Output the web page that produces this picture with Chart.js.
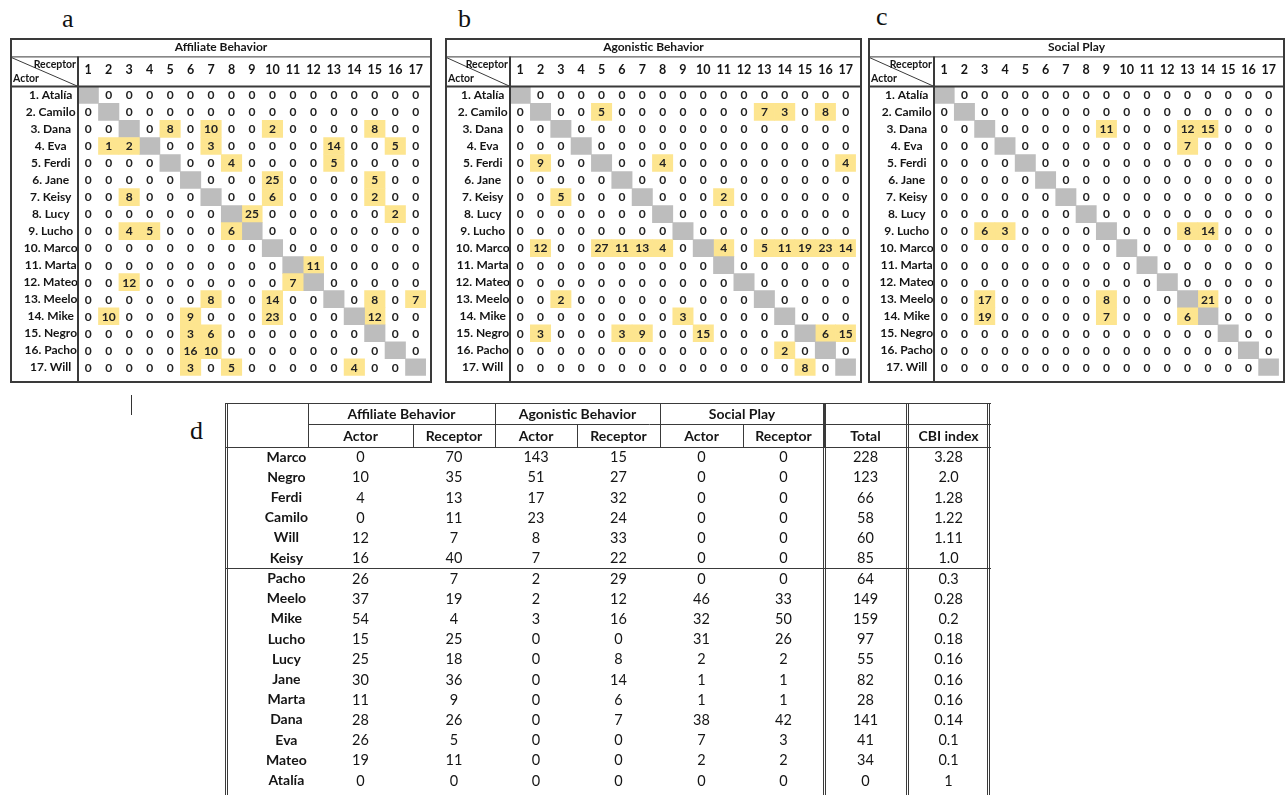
<!DOCTYPE html>
<html>
<head>
<meta charset="utf-8">
<title>Interacciones</title>
<script src="https://cdn.jsdelivr.net/npm/chart.js@4.4.1/dist/chart.umd.min.js"></script>
<style>
    html, body { margin: 0; padding: 0; background: #fff; width: 1286px; height: 795px; overflow: hidden; }
    canvas { position: absolute; }
    .tag { position: absolute; font-family: 'Liberation Serif', serif; font-size: 26px; line-height: 26px; color: #111; }
    .tick { position: absolute; left: 131px; top: 395px; width: 1px; height: 20px; background: #333; }
</style>
</head>
<body>
<div class="tag" style="left:62px;top:6px">a</div>
<div class="tag" style="left:458px;top:6px">b</div>
<div class="tag" style="left:876px;top:4px">c</div>
<div class="tag" style="left:190px;top:418px">d</div>
<div class="tick"></div>

<canvas id="matA" width="422" height="345" style="left:10px;top:38px"></canvas>
<canvas id="matB" width="417" height="345" style="left:445px;top:38px"></canvas>
<canvas id="matC" width="417" height="345" style="left:868px;top:38px"></canvas>
<canvas id="tableD" width="766" height="396" style="left:225px;top:403px"></canvas>

<script>
// actores (filas) y receptores (columnas)
let actors = ['1. Atalía', '2. Camilo', '3. Dana', '4. Eva', '5. Ferdi', '6. Jane', '7. Keisy', '8. Lucy', '9. Lucho',
    '10. Marco', '11. Marta', '12. Mateo', '13. Meelo', '14. Mike', '15. Negro', '16. Pacho', '17. Will'];
let receptors = [1, 2, 3, 4, 5, 6, 7, 8, 9, 10, 11, 12, 13, 14, 15, 16, 17];

// null = diagonal
let affiliate = [
    [null, 0, 0, 0, 0, 0, 0, 0, 0, 0, 0, 0, 0, 0, 0, 0, 0],
    [0, null, 0, 0, 0, 0, 0, 0, 0, 0, 0, 0, 0, 0, 0, 0, 0],
    [0, 0, null, 0, 8, 0, 10, 0, 0, 2, 0, 0, 0, 0, 8, 0, 0],
    [0, 1, 2, null, 0, 0, 3, 0, 0, 0, 0, 0, 14, 0, 0, 5, 0],
    [0, 0, 0, 0, null, 0, 0, 4, 0, 0, 0, 0, 5, 0, 0, 0, 0],
    [0, 0, 0, 0, 0, null, 0, 0, 0, 25, 0, 0, 0, 0, 5, 0, 0],
    [0, 0, 8, 0, 0, 0, null, 0, 0, 6, 0, 0, 0, 0, 2, 0, 0],
    [0, 0, 0, 0, 0, 0, 0, null, 25, 0, 0, 0, 0, 0, 0, 2, 0],
    [0, 0, 4, 5, 0, 0, 0, 6, null, 0, 0, 0, 0, 0, 0, 0, 0],
    [0, 0, 0, 0, 0, 0, 0, 0, 0, null, 0, 0, 0, 0, 0, 0, 0],
    [0, 0, 0, 0, 0, 0, 0, 0, 0, 0, null, 11, 0, 0, 0, 0, 0],
    [0, 0, 12, 0, 0, 0, 0, 0, 0, 0, 7, null, 0, 0, 0, 0, 0],
    [0, 0, 0, 0, 0, 0, 8, 0, 0, 14, 0, 0, null, 0, 8, 0, 7],
    [0, 10, 0, 0, 0, 9, 0, 0, 0, 23, 0, 0, 0, null, 12, 0, 0],
    [0, 0, 0, 0, 0, 3, 6, 0, 0, 0, 0, 0, 0, 0, null, 0, 0],
    [0, 0, 0, 0, 0, 16, 10, 0, 0, 0, 0, 0, 0, 0, 0, null, 0],
    [0, 0, 0, 0, 0, 3, 0, 5, 0, 0, 0, 0, 0, 4, 0, 0, null]
];
let agonistic = [
    [null, 0, 0, 0, 0, 0, 0, 0, 0, 0, 0, 0, 0, 0, 0, 0, 0],
    [0, null, 0, 0, 5, 0, 0, 0, 0, 0, 0, 0, 7, 3, 0, 8, 0],
    [0, 0, null, 0, 0, 0, 0, 0, 0, 0, 0, 0, 0, 0, 0, 0, 0],
    [0, 0, 0, null, 0, 0, 0, 0, 0, 0, 0, 0, 0, 0, 0, 0, 0],
    [0, 9, 0, 0, null, 0, 0, 4, 0, 0, 0, 0, 0, 0, 0, 0, 4],
    [0, 0, 0, 0, 0, null, 0, 0, 0, 0, 0, 0, 0, 0, 0, 0, 0],
    [0, 0, 5, 0, 0, 0, null, 0, 0, 0, 2, 0, 0, 0, 0, 0, 0],
    [0, 0, 0, 0, 0, 0, 0, null, 0, 0, 0, 0, 0, 0, 0, 0, 0],
    [0, 0, 0, 0, 0, 0, 0, 0, null, 0, 0, 0, 0, 0, 0, 0, 0],
    [0, 12, 0, 0, 27, 11, 13, 4, 0, null, 4, 0, 5, 11, 19, 23, 14],
    [0, 0, 0, 0, 0, 0, 0, 0, 0, 0, null, 0, 0, 0, 0, 0, 0],
    [0, 0, 0, 0, 0, 0, 0, 0, 0, 0, 0, null, 0, 0, 0, 0, 0],
    [0, 0, 2, 0, 0, 0, 0, 0, 0, 0, 0, 0, null, 0, 0, 0, 0],
    [0, 0, 0, 0, 0, 0, 0, 0, 3, 0, 0, 0, 0, null, 0, 0, 0],
    [0, 3, 0, 0, 0, 3, 9, 0, 0, 15, 0, 0, 0, 0, null, 6, 15],
    [0, 0, 0, 0, 0, 0, 0, 0, 0, 0, 0, 0, 0, 2, 0, null, 0],
    [0, 0, 0, 0, 0, 0, 0, 0, 0, 0, 0, 0, 0, 0, 8, 0, null]
];
let socialPlay = [
    [null, 0, 0, 0, 0, 0, 0, 0, 0, 0, 0, 0, 0, 0, 0, 0, 0],
    [0, null, 0, 0, 0, 0, 0, 0, 0, 0, 0, 0, 0, 0, 0, 0, 0],
    [0, 0, null, 0, 0, 0, 0, 0, 11, 0, 0, 0, 12, 15, 0, 0, 0],
    [0, 0, 0, null, 0, 0, 0, 0, 0, 0, 0, 0, 7, 0, 0, 0, 0],
    [0, 0, 0, 0, null, 0, 0, 0, 0, 0, 0, 0, 0, 0, 0, 0, 0],
    [0, 0, 0, 0, 0, null, 0, 0, 0, 0, 0, 0, 0, 0, 0, 0, 0],
    [0, 0, 0, 0, 0, 0, null, 0, 0, 0, 0, 0, 0, 0, 0, 0, 0],
    [0, 0, 0, 0, 0, 0, 0, null, 0, 0, 0, 0, 0, 0, 0, 0, 0],
    [0, 0, 6, 3, 0, 0, 0, 0, null, 0, 0, 0, 8, 14, 0, 0, 0],
    [0, 0, 0, 0, 0, 0, 0, 0, 0, null, 0, 0, 0, 0, 0, 0, 0],
    [0, 0, 0, 0, 0, 0, 0, 0, 0, 0, null, 0, 0, 0, 0, 0, 0],
    [0, 0, 0, 0, 0, 0, 0, 0, 0, 0, 0, null, 0, 0, 0, 0, 0],
    [0, 0, 17, 0, 0, 0, 0, 0, 8, 0, 0, 0, null, 21, 0, 0, 0],
    [0, 0, 19, 0, 0, 0, 0, 0, 7, 0, 0, 0, 6, null, 0, 0, 0],
    [0, 0, 0, 0, 0, 0, 0, 0, 0, 0, 0, 0, 0, 0, null, 0, 0],
    [0, 0, 0, 0, 0, 0, 0, 0, 0, 0, 0, 0, 0, 0, 0, null, 0],
    [0, 0, 0, 0, 0, 0, 0, 0, 0, 0, 0, 0, 0, 0, 0, 0, null]
];

// tabla resumen (d)
let names = ['Marco', 'Negro', 'Ferdi', 'Camilo', 'Will', 'Keisy', 'Pacho', 'Meelo', 'Mike', 'Lucho', 'Lucy', 'Jane', 'Marta', 'Dana', 'Eva', 'Mateo', 'Atalía'];
let affActor = [0, 10, 4, 0, 12, 16, 26, 37, 54, 15, 25, 30, 11, 28, 26, 19, 0];
let affReceptor = [70, 35, 13, 11, 7, 40, 7, 19, 4, 25, 18, 36, 9, 26, 5, 11, 0];
let agoActor = [143, 51, 17, 23, 8, 7, 2, 2, 3, 0, 0, 0, 0, 0, 0, 0, 0];
let agoReceptor = [15, 27, 32, 24, 33, 22, 29, 12, 16, 0, 8, 14, 6, 7, 0, 0, 0];
let spActor = [0, 0, 0, 0, 0, 0, 0, 46, 32, 31, 2, 1, 1, 38, 7, 2, 0];
let spReceptor = [0, 0, 0, 0, 0, 0, 0, 33, 50, 26, 2, 1, 1, 42, 3, 2, 0];
let total = [228, 123, 66, 58, 60, 85, 64, 149, 159, 97, 55, 82, 28, 141, 41, 34, 0];
let cbiIndex = ['3.28', '2.0', '1.28', '1.22', '1.11', '1.0', '0.3', '0.28', '0.2', '0.18', '0.16', '0.16', '0.16', '0.14', '0.1', '0.1', '1'];

let groups = ['Affiliate Behavior', 'Agonistic Behavior', 'Social Play'];
let subHeads = ['Actor', 'Receptor', 'Actor', 'Receptor', 'Actor', 'Receptor', 'Total', 'CBI index'];


let YELLOW = '#fde58f';
let GREY = '#bdbdbd';
let LINE = '#3a3a3a';
let INK = '#151515';

let line = function (ctx, x1, y1, x2, y2) {
    ctx.beginPath();
    ctx.moveTo(x1, y1);
    ctx.lineTo(x2, y2);
    ctx.stroke();
};

// numeros dentro de cada celda
let cellText = function (values) {
    return {
        id: 'cellText',
        afterDatasetsDraw: function (chart) {
            let ctx = chart.ctx, xs = chart.scales.x, ys = chart.scales.y;
            ctx.save();
            ctx.font = 'bold 12px Lato';
            ctx.fillStyle = '#222';
            ctx.textAlign = 'center';
            ctx.textBaseline = 'middle';
            values.forEach(function (row, r) {
                row.forEach(function (v, c) {
                    if (v === null) return;
                    ctx.fillText(String(v), xs.getPixelForValue(receptors[c]), ys.getPixelForValue(r) + 0.5);
                });
            });
            ctx.restore();
        }
    };
};

// marco, separadores y esquina Receptor/Actor
let matrixFrame = {
    id: 'matrixFrame',
    afterDraw: function (chart) {
        let ctx = chart.ctx, a = chart.chartArea, xs = chart.scales.x;
        let w = chart.width, h = chart.height;
        ctx.save();
        ctx.strokeStyle = LINE;
        ctx.lineWidth = 1;
        line(ctx, 0, xs.top + 0.5, w, xs.top + 0.5);
        line(ctx, 0, xs.top + 0.5, a.left, a.top);
        ctx.lineWidth = 2;
        ctx.strokeRect(1, 1, w - 2, h - 2);
        line(ctx, 0, a.top, w, a.top);
        line(ctx, a.left, xs.top, a.left, h);

        ctx.fillStyle = INK;
        ctx.font = 'bold 10.5px Lato';
        ctx.textAlign = 'right';
        ctx.textBaseline = 'alphabetic';
        ctx.fillText('Receptor', a.left - 2, xs.top + 12);
        ctx.textAlign = 'left';
        ctx.fillText('Actor', 3, a.top - 4);
        ctx.restore();
    }
};

let matrixChart = function (id, title, values, labelWidth) {
    let datasets = receptors.map(function (col, c) {
        return {
            data: values.map(function (row) {
                return (row[c] === null || row[c] > 0) ? [col - 0.5, col + 0.5] : null;
            }),
            backgroundColor: values.map(function (row) {
                return row[c] === null ? GREY : YELLOW;
            }),
            barPercentage: 1,
            categoryPercentage: 1,
            grouped: false
        };
    });

    return new Chart(document.getElementById(id), {
        type: 'bar',
        data: { labels: actors, datasets: datasets },
        options: {
            indexAxis: 'y',
            responsive: false,
            animation: false,
            layout: { padding: 0 },
            scales: {
                x: {
                    type: 'linear',
                    position: 'top',
                    min: 0.5,
                    max: 17.5,
                    grid: { display: false, drawTicks: false },
                    border: { display: false },
                    afterBuildTicks: function (axis) {
                        axis.ticks = receptors.map(function (v) { return { value: v }; });
                    },
                    afterFit: function (axis) { axis.height = 30; },
                    ticks: {
                        autoSkip: false,
                        maxRotation: 0,
                        padding: 9,
                        color: INK,
                        font: { family: 'Lato', weight: 'bold', size: 12.5 }
                    }
                },
                y: {
                    grid: { display: false, drawTicks: false },
                    border: { display: false },
                    afterFit: function (axis) { axis.width = labelWidth; },
                    ticks: {
                        autoSkip: false,
                        crossAlign: 'center',
                        padding: 0,
                        color: INK,
                        font: { family: 'Lato', weight: 'bold', size: 12 }
                    }
                }
            },
            plugins: {
                legend: { display: false },
                tooltip: { enabled: false },
                title: {
                    display: true,
                    text: title,
                    color: INK,
                    font: { family: 'Lato', weight: 'bold', size: 12, lineHeight: 1.2 },
                    padding: { top: 2, bottom: 2 }
                }
            }
        },
        plugins: [cellText(values), matrixFrame]
    });
};

// tabla d: columnas en unidades del eje x
let colEdges = [0, 105, 187, 269, 352, 435, 516, 599, 682];
let columns = [affActor, affReceptor, agoActor, agoReceptor, spActor, spReceptor, total, cbiIndex];

let tableDraw = {
    id: 'tableDraw',
    afterDraw: function (chart) {
        let ctx = chart.ctx, a = chart.chartArea, xs = chart.scales.x, ys = chart.scales.y;
        let w = chart.width, h = chart.height;
        let px = function (v) { return Math.round(xs.getPixelForValue(v)) + 0.5; };
        let mid = 21.5, head = a.top + 0.5;
        let dbl = function (x, y1, y2) {
            line(ctx, x - 1, y1, x - 1, y2);
            line(ctx, x + 1, y1, x + 1, y2);
        };
        ctx.save();
        ctx.strokeStyle = LINE;
        ctx.lineWidth = 1;

        // cabecera
        line(ctx, 0, 0.5, w, 0.5);
        line(ctx, a.left, mid, w, mid);
        line(ctx, 0, head, w, head);
        line(ctx, a.left + 0.5, 0, a.left + 0.5, head);
        [2, 4, 6].forEach(function (k) { line(ctx, px(colEdges[k]), 0, px(colEdges[k]), head); });
        [1, 3, 5].forEach(function (k) { line(ctx, px(colEdges[k]), mid, px(colEdges[k]), head); });

        // bordes dobles
        dbl(1.5, 0, h);
        dbl(px(colEdges[6]), 0, h);
        dbl(px(colEdges[7]), 0, h);
        dbl(w - 2.5, 0, h);

        // separador despues de Keisy
        let sep = Math.round((ys.getPixelForValue(5) + ys.getPixelForValue(6)) / 2) + 0.5;
        line(ctx, 0, sep, w, sep);

        ctx.fillStyle = INK;
        ctx.textAlign = 'center';
        ctx.textBaseline = 'middle';
        ctx.font = 'bold 14px Lato';
        groups.forEach(function (g, i) {
            let cx = (xs.getPixelForValue(colEdges[2 * i]) + xs.getPixelForValue(colEdges[2 * i + 2])) / 2;
            ctx.fillText(g, cx, 11);
        });
        subHeads.forEach(function (s, k) {
            let cx = (xs.getPixelForValue(colEdges[k]) + xs.getPixelForValue(colEdges[k + 1])) / 2;
            ctx.fillText(s, cx, 33);
        });

        ctx.font = '14.5px Lato';
        columns.forEach(function (col, k) {
            let cx = (xs.getPixelForValue(colEdges[k]) + xs.getPixelForValue(colEdges[k + 1])) / 2;
            col.forEach(function (v, r) {
                ctx.fillText(String(v), cx, ys.getPixelForValue(r) + 0.5);
            });
        });
        ctx.restore();
    }
};

let tableChart = function () {
    return new Chart(document.getElementById('tableD'), {
        type: 'bar',
        data: { labels: names, datasets: [] },
        options: {
            indexAxis: 'y',
            responsive: false,
            animation: false,
            layout: { padding: { top: 44, right: 1 } },
            scales: {
                x: { type: 'linear', display: false, min: 0, max: 682 },
                y: {
                    grid: { display: false, drawTicks: false },
                    border: { display: false },
                    afterFit: function (axis) { axis.width = 83; },
                    ticks: {
                        autoSkip: false,
                        crossAlign: 'center',
                        padding: 0,
                        color: INK,
                        font: { family: 'Lato', weight: 'bold', size: 14 }
                    }
                }
            },
            plugins: { legend: { display: false }, tooltip: { enabled: false } }
        },
        plugins: [tableDraw]
    });
};

window.onload = function () {
    matrixChart('matA', 'Affiliate Behavior', affiliate, 68);
    matrixChart('matB', 'Agonistic Behavior', agonistic, 65);
    matrixChart('matC', 'Social Play', socialPlay, 66);
    tableChart();
};
</script>
</body>
</html>
